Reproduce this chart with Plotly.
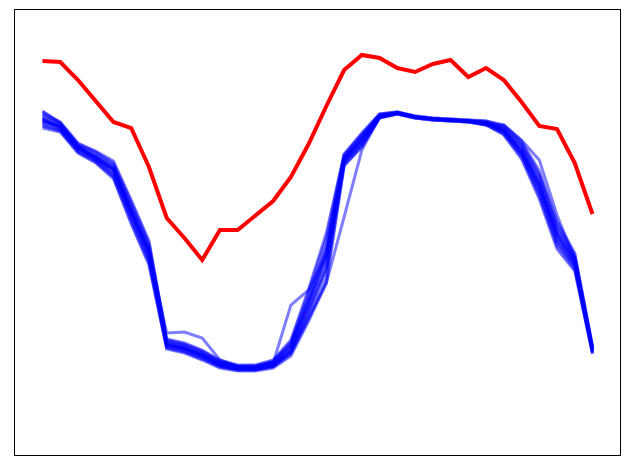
import plotly.graph_objects as go

# индексы точек по оси X
steps = list(range(32))

reference = [394, 393, 375, 354, 333, 327, 288, 237, 217, 195, 225, 225, 239, 254, 278, 311,
             349, 385, 400, 397, 387, 383, 391, 395, 378, 387, 375, 353, 329, 326, 292, 241]

# ансамбль реализаций
run_a = [343, 333, 312, 304, 294, 255, 214, 116, 112, 105, 95, 90, 90, 95, 115, 166,
         222, 301, 322, 341, 343, 339, 337, 336, 335, 334, 330, 314, 284, 234, 202, 109]
run_b = [340, 331, 310, 302, 290, 250, 209, 114, 110, 103, 93, 89, 89, 93, 112, 158,
         209, 299, 319, 340, 342, 338, 336, 335, 334, 333, 328, 310, 278, 228, 198, 107]
run_c = [337, 326, 306, 299, 287, 246, 205, 109, 106, 101, 92, 88, 88, 92, 109, 153,
         202, 296, 317, 339, 343, 338, 336, 335, 334, 332, 326, 307, 272, 223, 195, 106]
run_d = [335, 328, 307, 298, 285, 243, 202, 111, 107, 100, 91, 87, 87, 91, 107, 150,
         197, 295, 315, 339, 342, 338, 336, 335, 334, 332, 325, 305, 270, 220, 193, 105]
run_e = [333, 329, 308, 296, 282, 240, 198, 112, 108, 99, 90, 86, 86, 90, 104, 146,
         191, 293, 313, 338, 342, 338, 336, 335, 334, 331, 323, 302, 266, 216, 190, 104]
run_f = [330, 325, 304, 294, 279, 236, 195, 108, 104, 97, 89, 85, 85, 89, 102, 142,
         185, 291, 311, 338, 341, 337, 335, 334, 333, 331, 322, 300, 262, 212, 188, 102]
run_g = [327, 323, 302, 292, 276, 231, 190, 106, 102, 95, 87, 84, 84, 87, 99, 134,
         172, 289, 308, 337, 341, 337, 335, 334, 333, 330, 320, 296, 256, 206, 184, 101]
run_h = [344, 332, 309, 298, 286, 244, 204, 122, 123, 117, 95, 88, 87, 91, 108, 152,
         199, 296, 316, 339, 342, 338, 336, 335, 334, 332, 325, 304, 269, 221, 194, 105]
run_i = [336, 329, 307, 296, 285, 242, 201, 110, 107, 100, 91, 87, 87, 92, 150, 165,
         200, 296, 315, 339, 342, 338, 336, 335, 334, 330, 330, 315, 295, 240, 195, 104]
run_j = [334, 328, 308, 297, 286, 243, 203, 111, 106, 99, 90, 86, 86, 89, 104, 137,
         172, 238, 305, 338, 342, 338, 336, 335, 334, 332, 324, 304, 271, 219, 192, 105]
run_k = [341, 332, 311, 303, 292, 253, 212, 115, 111, 104, 94, 89, 89, 94, 113, 163,
         217, 300, 321, 341, 343, 339, 337, 336, 335, 334, 329, 312, 281, 231, 200, 108]
run_l = [338, 330, 309, 300, 289, 248, 207, 113, 109, 102, 93, 88, 88, 93, 110, 156,
         207, 297, 318, 340, 342, 338, 336, 335, 334, 333, 327, 309, 276, 226, 197, 107]
run_m = [332, 326, 305, 295, 281, 238, 197, 109, 105, 98, 89, 86, 86, 89, 104, 144,
         187, 293, 312, 338, 342, 338, 336, 335, 334, 331, 323, 301, 264, 214, 189, 103]
run_n = [329, 324, 303, 293, 278, 233, 192, 107, 103, 96, 88, 85, 85, 88, 101, 137,
         177, 290, 309, 337, 341, 337, 335, 334, 333, 330, 321, 298, 259, 209, 186, 102]

runs = [run_a, run_b, run_c, run_d, run_e, run_f, run_g,
        run_h, run_i, run_j, run_k, run_l, run_m, run_n]

fig = go.Figure()
for run in runs:
    fig.add_trace(go.Scatter(x=steps, y=run, mode='lines', opacity=0.5,
                             line=dict(color='blue', width=3), showlegend=False))
fig.add_trace(go.Scatter(x=steps, y=reference, mode='lines',
                         line=dict(color='red', width=4), showlegend=False))

axis = dict(showgrid=False, zeroline=False, showticklabels=False, ticks='',
            showline=True, linecolor='black', linewidth=1, mirror=True)
fig.update_layout(
    width=630, height=470,
    margin=dict(l=15, r=10, t=10, b=15),
    paper_bgcolor='white', plot_bgcolor='white',
    xaxis=dict(range=[-1.55, 32.55], **axis),
    yaxis=dict(range=[0, 445], **axis),
)
# убрать отступ страницы, чтобы рамка стояла на месте
fig.write_html('out.html', config={'displayModeBar': False},
               post_script="document.body.style.margin='0';")
